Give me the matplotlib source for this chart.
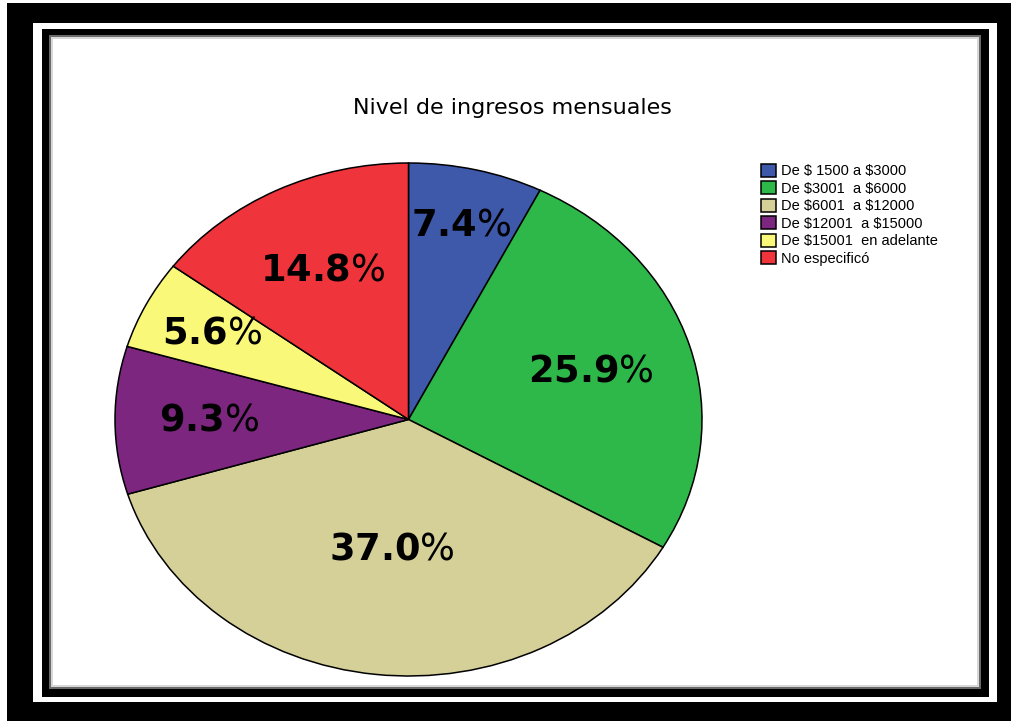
import matplotlib.pyplot as plt
import numpy as np
from matplotlib.patches import Rectangle

categories = ["De \\$ 1500 a \\$3000", "De \\$3001  a \\$6000", "De \\$6001  a \\$12000",
              "De \\$12001  a \\$15000", "De \\$15001  en adelante", "No especificó"]
percent = [7.4, 25.9, 37.0, 9.3, 5.6, 14.8]
colors = ["#3E58AA", "#2EB84A", "#D5CF98", "#7C2680", "#FAF878", "#F0343C"]
label_r = [0.78, 0.65, 0.51, 0.68, 0.75, 0.65]

plt.rcParams['mathtext.fontset'] = 'custom'
plt.rcParams['mathtext.bf'] = 'DejaVu Sans:bold'
plt.rcParams['mathtext.rm'] = 'DejaVu Sans'

W, H = 1011, 721
fig = plt.figure(figsize=(W / 100, H / 100), dpi=100, facecolor='black')


def box(x0, y0, x1, y1, color):
    # pixel coords, y measured from the top
    fig.add_artist(Rectangle((x0 / W, 1 - y1 / H), (x1 - x0) / W, (y1 - y0) / H,
                             transform=fig.transFigure, facecolor=color,
                             edgecolor='none', zorder=0))


# frame
box(0, 0, W, 3, 'white')
box(0, 0, 7, H, 'white')
box(33, 23, 997, 702, 'white')
box(42, 29, 989, 697, 'black')
box(49, 35, 981, 689, '#6a6a6a')
box(51, 37, 979, 687, '#d8d8d8')
box(53, 39, 977, 685, 'white')

# pie as an ellipse
cx, cy, rx, ry = 408.5, 419.5, 293.5, 256.5
ax = fig.add_axes([(cx - rx) / W, 1 - (cy + ry) / H, 2 * rx / W, 2 * ry / H])
ax.patch.set_visible(False)
wedges, _ = ax.pie(percent, colors=colors, startangle=90, counterclock=False,
                   wedgeprops=dict(edgecolor='black', linewidth=1.1))
for w in wedges:
    w.set_clip_on(False)
ax.set_aspect('auto')
ax.set_xlim(-1, 1)
ax.set_ylim(-1, 1)

for w, p, r in zip(wedges, percent, label_r):
    a = np.deg2rad((w.theta1 + w.theta2) / 2)
    ax.text(r * np.cos(a), r * np.sin(a), r"$\mathbf{%.1f}$%%" % p,
            ha='center', va='center', fontsize=26.5, color='black')

fig.text(512 / W, 1 - 108 / H, "Nivel de ingresos mensuales", ha='center', va='center',
         fontsize=16, family='DejaVu Sans', color='black')

fig.legend(wedges, categories, loc='upper left', bbox_to_anchor=(758 / W, 1 - 161 / H),
           frameon=False, prop={'family': 'Liberation Sans', 'size': 10.5},
           handlelength=1.0, handleheight=1.0, handletextpad=0.4, labelspacing=0.2,
           borderpad=0.2, borderaxespad=0)

fig.savefig("out.png", dpi=100, facecolor='black')
